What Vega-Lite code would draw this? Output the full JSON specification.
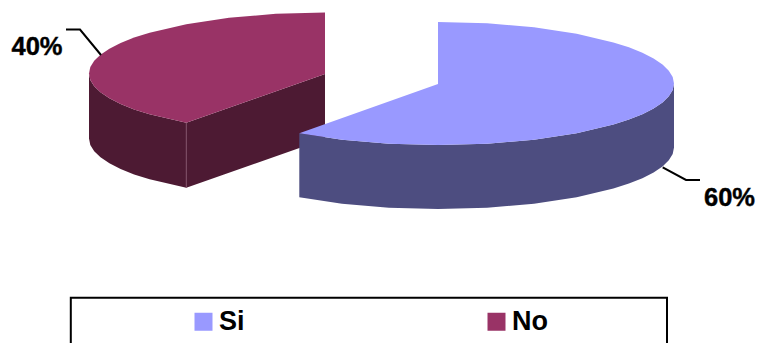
{
  "$schema": "https://vega.github.io/schema/vega-lite/v6.json",
  "width": 758,
  "height": 343,
  "autosize": {"type": "none"},
  "padding": 0,
  "background": "#ffffff",
  "config": {"view": {"stroke": null}},
  "datasets": {
    "noWalls": [
      {"x": 890, "y": 735}, {"x": 903, "y": 799}, {"x": 942, "y": 862}, {"x": 1005, "y": 923}, {"x": 1094, "y": 983}, {"x": 1206, "y": 1040}, {"x": 1341, "y": 1094}, {"x": 1496, "y": 1143}, {"x": 1863, "y": 1228},
      {"x": 3250, "y": 740}, {"x": 3250, "y": 1390},
      {"x": 1863, "y": 1878}, {"x": 1496, "y": 1793}, {"x": 1341, "y": 1744}, {"x": 1206, "y": 1690}, {"x": 1094, "y": 1633}, {"x": 1005, "y": 1573}, {"x": 942, "y": 1512}, {"x": 903, "y": 1449}, {"x": 890, "y": 1385}
    ],
    "siWall": [
      {"x": 6740, "y": 835}, {"x": 6727, "y": 899}, {"x": 6688, "y": 963}, {"x": 6625, "y": 1025}, {"x": 6536, "y": 1085}, {"x": 6424, "y": 1143}, {"x": 6289, "y": 1196}, {"x": 6134, "y": 1246}, {"x": 5767, "y": 1333}, {"x": 5340, "y": 1397}, {"x": 4871, "y": 1437}, {"x": 4380, "y": 1450}, {"x": 3889, "y": 1437}, {"x": 3420, "y": 1397}, {"x": 2993, "y": 1333},
      {"x": 2993, "y": 1973}, {"x": 3420, "y": 2037}, {"x": 3889, "y": 2077}, {"x": 4380, "y": 2090}, {"x": 4871, "y": 2077}, {"x": 5340, "y": 2037}, {"x": 5767, "y": 1973}, {"x": 6134, "y": 1886}, {"x": 6289, "y": 1836}, {"x": 6424, "y": 1783}, {"x": 6536, "y": 1725}, {"x": 6625, "y": 1665}, {"x": 6688, "y": 1603}, {"x": 6727, "y": 1539}, {"x": 6740, "y": 1475}
    ],
    "tops": [
      {"series": "Si", "x": 4380, "y": 840}, {"series": "Si", "x": 4380, "y": 220}, {"series": "Si", "x": 4871, "y": 233}, {"series": "Si", "x": 5340, "y": 273}, {"series": "Si", "x": 5767, "y": 337}, {"series": "Si", "x": 6134, "y": 424}, {"series": "Si", "x": 6289, "y": 473}, {"series": "Si", "x": 6424, "y": 528}, {"series": "Si", "x": 6536, "y": 585}, {"series": "Si", "x": 6625, "y": 645}, {"series": "Si", "x": 6688, "y": 707}, {"series": "Si", "x": 6727, "y": 771}, {"series": "Si", "x": 6740, "y": 835}, {"series": "Si", "x": 6727, "y": 899}, {"series": "Si", "x": 6688, "y": 963}, {"series": "Si", "x": 6625, "y": 1025}, {"series": "Si", "x": 6536, "y": 1085}, {"series": "Si", "x": 6424, "y": 1143}, {"series": "Si", "x": 6289, "y": 1196}, {"series": "Si", "x": 6134, "y": 1246}, {"series": "Si", "x": 5767, "y": 1333}, {"series": "Si", "x": 5340, "y": 1397}, {"series": "Si", "x": 4871, "y": 1437}, {"series": "Si", "x": 4380, "y": 1450}, {"series": "Si", "x": 3889, "y": 1437}, {"series": "Si", "x": 3420, "y": 1397}, {"series": "Si", "x": 2993, "y": 1333},
      {"series": "No", "x": 3250, "y": 740}, {"series": "No", "x": 3250, "y": 125}, {"series": "No", "x": 2759, "y": 138}, {"series": "No", "x": 2290, "y": 178}, {"series": "No", "x": 1863, "y": 242}, {"series": "No", "x": 1496, "y": 327}, {"series": "No", "x": 1341, "y": 376}, {"series": "No", "x": 1206, "y": 430}, {"series": "No", "x": 1094, "y": 487}, {"series": "No", "x": 1005, "y": 547}, {"series": "No", "x": 942, "y": 608}, {"series": "No", "x": 903, "y": 671}, {"series": "No", "x": 890, "y": 735}, {"series": "No", "x": 903, "y": 799}, {"series": "No", "x": 942, "y": 862}, {"series": "No", "x": 1005, "y": 923}, {"series": "No", "x": 1094, "y": 983}, {"series": "No", "x": 1206, "y": 1040}, {"series": "No", "x": 1341, "y": 1094}, {"series": "No", "x": 1496, "y": 1143}, {"series": "No", "x": 1863, "y": 1228}
    ],
    "leaders": [
      {"slice": "No", "x": 660, "y": 295}, {"slice": "No", "x": 800, "y": 295}, {"slice": "No", "x": 1010, "y": 550},
      {"slice": "Si", "x": 6627, "y": 1673}, {"slice": "Si", "x": 6860, "y": 1800}, {"slice": "Si", "x": 7000, "y": 1800}
    ],
    "shares": [
      {"share": "40%", "x": 370, "y": 550},
      {"share": "60%", "x": 7295, "y": 2060}
    ]
  },
  "layer": [
    {
      "data": {"name": "noWalls"},
      "mark": {"type": "line", "fill": "#4d1a33", "stroke": null},
      "encoding": {
        "x": {"field": "x", "type": "quantitative", "scale": {"domain": [0, 7580], "nice": false, "zero": false}, "axis": null},
        "y": {"field": "y", "type": "quantitative", "scale": {"domain": [3430, 0], "nice": false, "zero": false}, "axis": null},
        "order": {"value": null}
      }
    },
    {
      "data": {"values": [{"x": 1863, "y": 1228}, {"x": 1863, "y": 1878}]},
      "mark": {"type": "line", "stroke": "#86576f", "strokeWidth": 1},
      "encoding": {
        "x": {"field": "x", "type": "quantitative"},
        "y": {"field": "y", "type": "quantitative"},
        "order": {"value": null}
      }
    },
    {
      "data": {"name": "siWall"},
      "mark": {"type": "line", "fill": "#4d4d80", "stroke": null},
      "encoding": {
        "x": {"field": "x", "type": "quantitative"},
        "y": {"field": "y", "type": "quantitative"},
        "order": {"value": null}
      }
    },
    {
      "data": {"name": "tops"},
      "mark": {"type": "line", "stroke": null},
      "encoding": {
        "x": {"field": "x", "type": "quantitative"},
        "y": {"field": "y", "type": "quantitative"},
        "order": {"value": null},
        "fill": {
          "field": "series",
          "type": "nominal",
          "scale": {"domain": ["Si", "No"], "range": ["#9999ff", "#993366"]},
          "legend": {
            "orient": "none",
            "legendX": 190,
            "legendY": 308,
            "title": null,
            "direction": "horizontal",
            "columns": 2,
            "columnPadding": 238,
            "padding": 0,
            "symbolType": "square",
            "symbolSize": 324,
            "symbolStrokeWidth": 0,
            "labelFont": "Liberation Sans",
            "labelFontSize": 27,
            "labelFontWeight": "bold",
            "labelColor": "#000000",
            "labelOffset": 2
          }
        }
      }
    },
    {
      "data": {"name": "leaders"},
      "mark": {"type": "line", "stroke": "#000000", "strokeWidth": 2},
      "encoding": {
        "x": {"field": "x", "type": "quantitative"},
        "y": {"field": "y", "type": "quantitative"},
        "detail": {"field": "slice"},
        "order": {"value": null}
      }
    },
    {
      "data": {"name": "shares"},
      "mark": {"type": "text", "font": "Liberation Sans", "fontSize": 25.5, "fontWeight": "bold", "color": "#000000", "stroke": "#000000", "strokeWidth": 0.4, "align": "center", "baseline": "alphabetic"},
      "encoding": {
        "x": {"field": "x", "type": "quantitative"},
        "y": {"field": "y", "type": "quantitative"},
        "text": {"field": "share"}
      }
    },
    {
      "data": {"values": [{"left": 708, "right": 6670, "top": 2977, "bottom": 3600}]},
      "mark": {"type": "rect", "fill": null, "stroke": "#000000", "strokeWidth": 2},
      "encoding": {
        "x": {"field": "left", "type": "quantitative"},
        "x2": {"field": "right"},
        "y": {"field": "top", "type": "quantitative"},
        "y2": {"field": "bottom"}
      }
    }
  ]
}
